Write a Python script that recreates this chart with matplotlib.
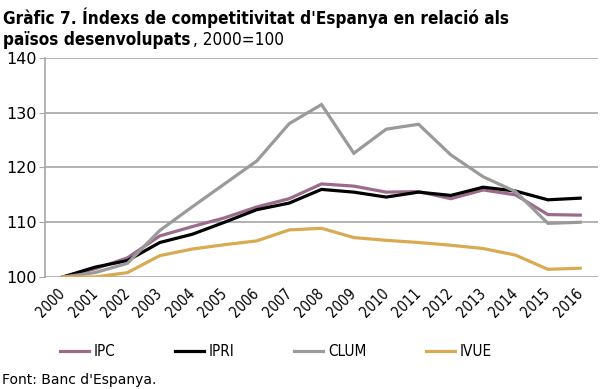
import matplotlib
matplotlib.use("Agg")
import matplotlib.pyplot as plt
import numpy as np

years = [str(y) for y in range(2000, 2017)]
ipc = [100, 101.5, 103.5, 107.5, 109.2, 110.8, 112.8, 114.3, 117.0, 116.6, 115.5, 115.6, 114.3, 115.9, 115.0, 111.4, 111.3]
ipri = [100, 101.8, 103.0, 106.3, 107.8, 110.0, 112.3, 113.5, 116.0, 115.5, 114.6, 115.5, 114.9, 116.4, 115.7, 114.1, 114.4]
clum = [100, 100.8, 102.5, 108.5, 112.8, 117.0, 121.2, 128.0, 131.5, 122.6, 127.0, 127.9, 122.3, 118.3, 115.6, 109.8, 110.0]
ivue = [100, 100.0, 100.8, 103.9, 105.1, 105.9, 106.6, 108.6, 108.9, 107.2, 106.7, 106.3, 105.8, 105.2, 104.0, 101.4, 101.6]
series = [("IPC", ipc, "#9c6b8c"), ("IPRI", ipri, "#000000"), ("CLUM", clum, "#9a9a9a"), ("IVUE", ivue, "#d8aa52")]
yticks = [100, 110, 120, 130, 140]

plt.rcParams['font.family'] = ['DejaVu Sans']
fig = plt.figure(figsize=(6.0, 3.89), dpi=100)
ax = fig.add_axes([45/600, 1 - 277/389, 553/600, (277 - 58)/389])

x = np.arange(len(years))
for name, vals, col in series:
    ax.plot(x, vals, color=col, lw=2.3, label=name, solid_joinstyle='miter')

ax.set_xlim(-0.55, len(years) - 0.45)
ax.set_ylim(100, 140)
ax.set_yticks(yticks)
ax.set_yticklabels([str(v) for v in yticks], fontsize=11.5)
ax.set_xticks(x)
ax.set_xticklabels(years, rotation=45, fontsize=10.5, ha='right', va='center',
                   rotation_mode='anchor', fontstretch='condensed')
ax.grid(axis='y', color='#a6a6a6', lw=1.2)
ax.set_axisbelow(True)
for s in ['top', 'right', 'bottom']:
    ax.spines[s].set_visible(False)
ax.spines['left'].set_color('#a6a6a6')
ax.spines['left'].set_linewidth(1.2)
ax.tick_params(axis='y', length=4, color='#a6a6a6', pad=2)
ax.tick_params(axis='x', length=0, pad=10)

handles, labels = ax.get_legend_handles_labels()
leg = fig.legend(handles, labels, loc='center', bbox_to_anchor=(276/600, 1 - 352/389), ncol=4,
                 frameon=False, prop={'size': 11, 'stretch': 'condensed'},
                 handlelength=1.9, handletextpad=0.3, columnspacing=3.9)

fig.text(3/600, 1 - 18/389, "Gràfic 7. Índexs de competitivitat d'Espanya en relació als",
         fontsize=12.3, fontweight='bold', va='center', ha='left', fontstretch='condensed')
t1 = fig.text(3/600, 1 - 40/389, "països desenvolupats", fontsize=12.3, fontweight='bold',
              va='center', ha='left', fontstretch='condensed')
fig.canvas.draw()
bb = t1.get_window_extent()
fig.text(bb.x1 / 600 + 0.004, 1 - 40/389, ", 2000=100", fontsize=12.3, va='center', ha='left',
         fontstretch='condensed')
fig.text(2/600, 1 - 380/389, "Font: Banc d'Espanya.", fontsize=10, va='center', ha='left')

fig.savefig("out.png", dpi=100)
